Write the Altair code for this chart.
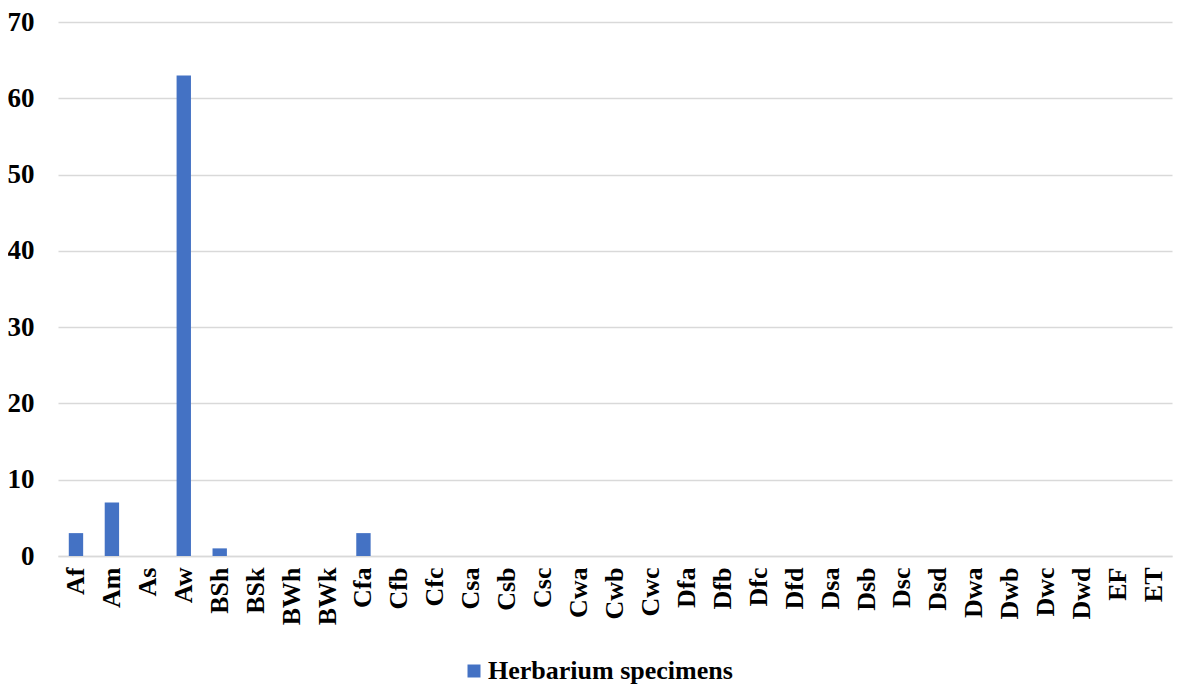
import altair as alt
import pandas as pd

categories = ["Af", "Am", "As", "Aw", "BSh", "BSk", "BWh", "BWk", "Cfa", "Cfb",
              "Cfc", "Csa", "Csb", "Csc", "Cwa", "Cwb", "Cwc", "Dfa", "Dfb", "Dfc",
              "Dfd", "Dsa", "Dsb", "Dsc", "Dsd", "Dwa", "Dwb", "Dwc", "Dwd", "EF", "ET"]
values = [3, 7, 0, 63, 1, 0, 0, 0, 3, 0,
          0, 0, 0, 0, 0, 0, 0, 0, 0, 0,
          0, 0, 0, 0, 0, 0, 0, 0, 0, 0, 0]
series_name = "Herbarium specimens"
y_ticks = [0, 10, 20, 30, 40, 50, 60, 70]

df = pd.DataFrame({"zone": categories, "count": values, "series": series_name})

font = "Liberation Serif"

chart = alt.Chart(df).mark_bar(color="#4472C4").encode(
    x=alt.X("zone:N", sort=categories, title=None,
            scale=alt.Scale(paddingInner=0.6, paddingOuter=0.3),
            axis=alt.Axis(labelAngle=-90, labelFont=font, labelFontSize=26,
                          labelFontWeight="bold", labelColor="black", ticks=False,
                          domainColor="#d9d9d9", domainWidth=1.5, labelPadding=11,
                          labelAlign="right", labelBaseline="middle")),
    y=alt.Y("count:Q", title=None,
            scale=alt.Scale(domain=[0, 70]),
            axis=alt.Axis(values=y_ticks, labelFont=font, labelFontSize=27,
                          labelFontWeight="bold", labelColor="black", ticks=False,
                          domain=False, gridColor="#d9d9d9", gridWidth=1.5,
                          labelPadding=24)),
    color=alt.Color("series:N", scale=alt.Scale(range=["#4472C4"]),
                    legend=alt.Legend(title=None, orient="none", legendX=403, legendY=636,
                                      symbolType="square", symbolSize=169,
                                      labelFont=font, labelFontSize=26, labelLimit=400,
                                      labelFontWeight="bold", labelColor="black",
                                      labelOffset=1,
                                      symbolStrokeWidth=0, symbolOpacity=1)),
).properties(
    width=1114, height=534,
    autosize=alt.AutoSizeParams(type="none"),
    padding={"left": 50, "top": 14, "right": 1, "bottom": 130},
).configure_view(stroke=None)

chart.save("out.html", embed_options={"renderer": "svg", "actions": False})
